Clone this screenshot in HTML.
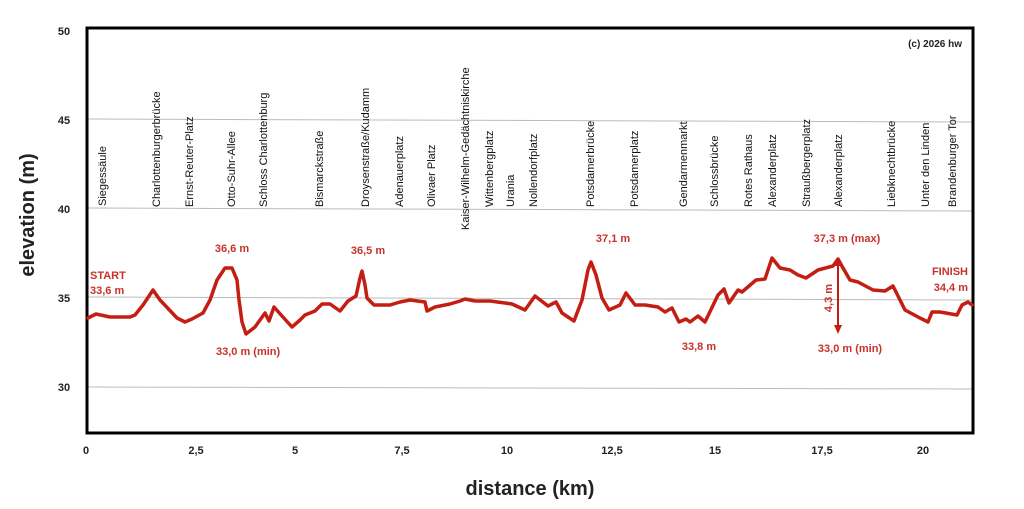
<!DOCTYPE html>
<html><head><meta charset="utf-8"><style>
html,body{margin:0;padding:0;background:#fff}
svg{display:block}
text{font-family:"Liberation Sans",Arial,sans-serif}
.rl{font-size:11px;fill:#111}
.an{font-size:11px;font-weight:bold;fill:#c8322c}
.tk{font-size:11px;font-weight:bold;fill:#222}
</style></head><body>
<svg width="1024" height="509" viewBox="0 0 1024 509">
<g stroke="#bbb" stroke-width="1">
<line x1="87" y1="119" x2="973" y2="122"/>
<line x1="87" y1="208" x2="973" y2="211"/>
<line x1="87" y1="297" x2="973" y2="300"/>
<line x1="87" y1="387" x2="973" y2="389"/>
</g>
<rect x="87" y="28" width="886" height="405" fill="none" stroke="#000" stroke-width="3"/>
<g class="tk" text-anchor="middle">
<text x="64" y="35">50</text><text x="64" y="124">45</text><text x="64" y="213">40</text><text x="64" y="302">35</text><text x="64" y="391">30</text>
<text x="86" y="454">0</text><text x="196" y="454">2,5</text><text x="295" y="454">5</text><text x="402" y="454">7,5</text><text x="507" y="454">10</text><text x="612" y="454">12,5</text><text x="715" y="454">15</text><text x="822" y="454">17,5</text><text x="923" y="454">20</text>
</g>
<text x="34" y="215" transform="rotate(-90 34 215)" text-anchor="middle" font-size="20" font-weight="bold" fill="#222">elevation (m)</text>
<text x="530" y="495" text-anchor="middle" font-size="20" font-weight="bold" fill="#222">distance (km)</text>
<text x="962" y="47" text-anchor="end" font-size="10" font-weight="bold" fill="#222">(c) 2026 hw</text>
<g class="rl">
<text transform="translate(106,206) rotate(-90)">Siegessäule</text>
<text transform="translate(160,207) rotate(-90)">Charlottenburgerbrücke</text>
<text transform="translate(193,207) rotate(-90)">Ernst-Reuter-Platz</text>
<text transform="translate(235,207) rotate(-90)">Otto-Suhr-Allee</text>
<text transform="translate(267,207) rotate(-90)">Schloss Charlottenburg</text>
<text transform="translate(323,207) rotate(-90)">Bismarckstraße</text>
<text transform="translate(369,207) rotate(-90)">Droysenstraße/Kudamm</text>
<text transform="translate(403,207) rotate(-90)">Adenauerplatz</text>
<text transform="translate(435,207) rotate(-90)">Olivaer Platz</text>
<text transform="translate(469,230) rotate(-90)">Kaiser-Wilhelm-Gedächtniskirche</text>
<text transform="translate(493,207) rotate(-90)">Wittenbergplatz</text>
<text transform="translate(514,207) rotate(-90)">Urania</text>
<text transform="translate(537,207) rotate(-90)">Nollendorfplatz</text>
<text transform="translate(594,207) rotate(-90)">Potsdamerbrücke</text>
<text transform="translate(638,207) rotate(-90)">Potsdamerplatz</text>
<text transform="translate(687,207) rotate(-90)">Gendarmenmarkt</text>
<text transform="translate(718,207) rotate(-90)">Schlossbrücke</text>
<text transform="translate(752,207) rotate(-90)">Rotes Rathaus</text>
<text transform="translate(776,207) rotate(-90)">Alexanderplatz</text>
<text transform="translate(810,207) rotate(-90)">Straußbergerplatz</text>
<text transform="translate(842,207) rotate(-90)">Alexanderplatz</text>
<text transform="translate(895,207) rotate(-90)">Liebknechtbrücke</text>
<text transform="translate(929,207) rotate(-90)">Unter den Linden</text>
<text transform="translate(956,207) rotate(-90)">Brandenburger Tor</text>
</g>
<polyline fill="none" stroke="#c41e14" stroke-width="3.5" stroke-linejoin="round" stroke-linecap="round" points="88,318 96,314 110,317 130,317 135,315 143,305 153,290 160,300 177,318 185,322 192,319 203,313 210,300 217,280 225,268 232,268 237,280 239,300 242,322 246,334 255,327 265,313 269,321 274,307 282,316 292,327 300,320 305,315 315,311 322,304 330,304 340,311 348,301 356,296 360,278 362,271 365,285 367,298 374,305 390,305 400,302 410,300 425,302 427,311 435,307 450,304 460,301 465,299 475,301 490,301 505,303 512,304 525,310 535,296 548,306 556,302 562,313 574,321 582,300 588,270 591,262 596,275 602,298 609,310 620,305 626,293 635,305 645,305 658,307 665,312 672,308 679,322 686,319 690,322 698,316 705,322 718,295 724,289 729,303 738,290 742,292 756,280 765,279 772,258 780,268 790,270 798,275 806,278 818,270 833,266 838,259 843,268 850,280 858,282 873,290 885,291 893,286 905,310 920,318 928,322 932,312 940,312 957,315 962,305 968,302 972,305"/>
<line x1="838" y1="262" x2="838" y2="326" stroke="#c41e14" stroke-width="2"/>
<polygon points="834,325 842,325 838,334" fill="#c41e14"/>
<polygon points="834,266 842,266 838,258" fill="#c41e14"/>
<g class="an">
<text x="90" y="279">START</text><text x="90" y="294">33,6 m</text>
<text x="232" y="252" text-anchor="middle">36,6 m</text>
<text x="368" y="254" text-anchor="middle">36,5 m</text>
<text x="216" y="355">33,0 m (min)</text>
<text x="613" y="242" text-anchor="middle">37,1 m</text>
<text x="847" y="242" text-anchor="middle">37,3 m (max)</text>
<text x="699" y="350" text-anchor="middle">33,8 m</text>
<text x="850" y="352" text-anchor="middle">33,0 m (min)</text>
<text x="968" y="275" text-anchor="end">FINISH</text><text x="968" y="291" text-anchor="end">34,4 m</text>
<text transform="translate(832,298) rotate(-90)" text-anchor="middle">4,3 m</text>
</g>
</svg>
</body></html>
